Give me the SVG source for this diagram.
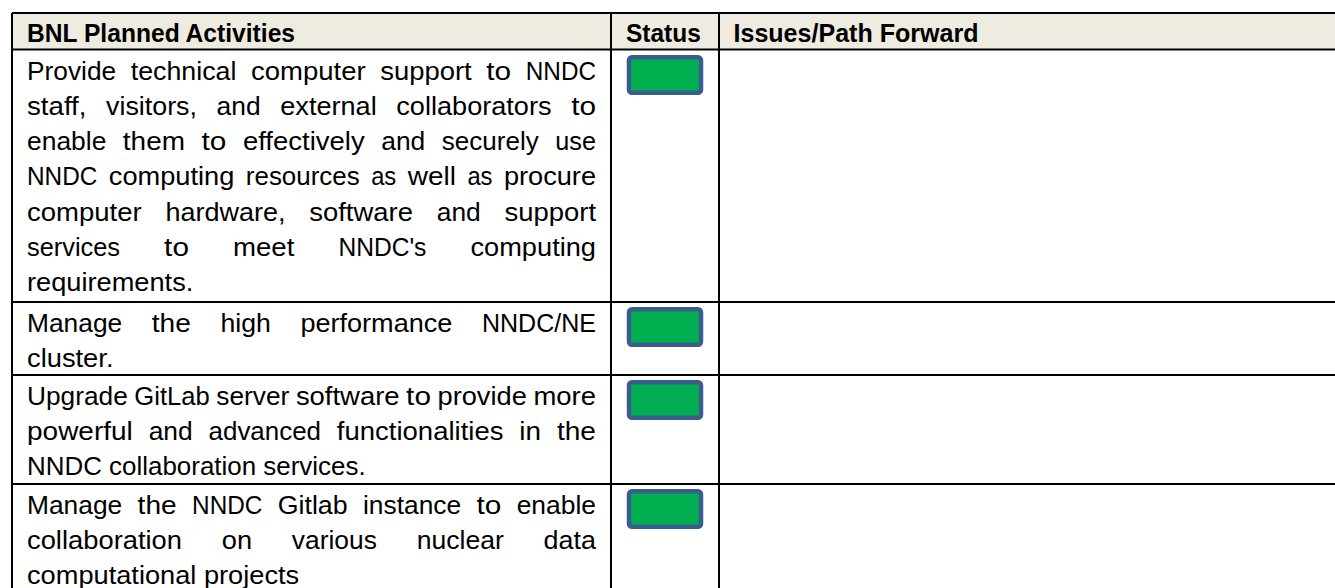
<svg xmlns="http://www.w3.org/2000/svg" width="1335" height="588" viewBox="0 0 1335 588">
<style>
.t{font-family:"Liberation Sans",Arial,sans-serif;font-size:26.5px;fill:#000}
.h{font-family:"Liberation Sans",Arial,sans-serif;font-size:26px;font-weight:bold;fill:#000}
.ln{stroke:#000;stroke-width:2;fill:none}
.st{fill:#00B050;stroke:#3A5D8F;stroke-width:4.5}
</style>
<rect width="1335" height="588" fill="#fff"/>
<g id="header">
<rect x="12" y="13" width="1323" height="36.5" fill="#EEECE1"/>
<text class="h" x="27" y="42" textLength="268" lengthAdjust="spacingAndGlyphs">BNL Planned Activities</text>
<text class="h" x="626" y="42" textLength="74.8" lengthAdjust="spacingAndGlyphs">Status</text>
<text class="h" x="733.5" y="42" textLength="245" lengthAdjust="spacingAndGlyphs">Issues/Path Forward</text>
</g>
<g id="grid">
<path class="ln" d="M12 13H1335M12 49.5H1335M12 302H1335M12 375H1335M12 484H1335M12 13V588M611 13V588M719 13V588"/>
</g>
<g id="row1">
<text class="t" y="79.5" lengthAdjust="spacingAndGlyphs"><tspan x="27" textLength="89.19" lengthAdjust="spacingAndGlyphs">Provide</tspan> <tspan x="130.79" textLength="105.58" lengthAdjust="spacingAndGlyphs">technical</tspan> <tspan x="250.97" textLength="114.65" lengthAdjust="spacingAndGlyphs">computer</tspan> <tspan x="380.22" textLength="91.5" lengthAdjust="spacingAndGlyphs">support</tspan> <tspan x="486.32" textLength="24.83" lengthAdjust="spacingAndGlyphs">to</tspan> <tspan x="525.75" textLength="70.27" lengthAdjust="spacingAndGlyphs">NNDC</tspan></text>
<text class="t" y="114.8"><tspan x="27" textLength="59.47" lengthAdjust="spacingAndGlyphs">staff,</tspan> <tspan x="106.13" textLength="90.81" lengthAdjust="spacingAndGlyphs">visitors,</tspan> <tspan x="216.6" textLength="44.04" lengthAdjust="spacingAndGlyphs">and</tspan> <tspan x="280.3" textLength="96.36" lengthAdjust="spacingAndGlyphs">external</tspan> <tspan x="396.32" textLength="155.2" lengthAdjust="spacingAndGlyphs">collaborators</tspan> <tspan x="571.18" textLength="24.83" lengthAdjust="spacingAndGlyphs">to</tspan></text>
<text class="t" y="150.1"><tspan x="27" textLength="79.32" lengthAdjust="spacingAndGlyphs">enable</tspan> <tspan x="122.87" textLength="62.12" lengthAdjust="spacingAndGlyphs">them</tspan> <tspan x="201.54" textLength="24.83" lengthAdjust="spacingAndGlyphs">to</tspan> <tspan x="242.92" textLength="121.74" lengthAdjust="spacingAndGlyphs">effectively</tspan> <tspan x="381.21" textLength="44.04" lengthAdjust="spacingAndGlyphs">and</tspan> <tspan x="441.8" textLength="96.94" lengthAdjust="spacingAndGlyphs">securely</tspan> <tspan x="555.29" textLength="40.72" lengthAdjust="spacingAndGlyphs">use</tspan></text>
<text class="t" y="185.4"><tspan x="27" textLength="70.27" lengthAdjust="spacingAndGlyphs">NNDC</tspan> <tspan x="108.79" textLength="125.54" lengthAdjust="spacingAndGlyphs">computing</tspan> <tspan x="245.85" textLength="113.79" lengthAdjust="spacingAndGlyphs">resources</tspan> <tspan x="371.16" textLength="25.06" lengthAdjust="spacingAndGlyphs">as</tspan> <tspan x="407.74" textLength="48.12" lengthAdjust="spacingAndGlyphs">well</tspan> <tspan x="467.38" textLength="25.06" lengthAdjust="spacingAndGlyphs">as</tspan> <tspan x="503.96" textLength="92.04" lengthAdjust="spacingAndGlyphs">procure</tspan></text>
<text class="t" y="220.7"><tspan x="27" textLength="114.65" lengthAdjust="spacingAndGlyphs">computer</tspan> <tspan x="165.43" textLength="120.07" lengthAdjust="spacingAndGlyphs">hardware,</tspan> <tspan x="309.28" textLength="103.65" lengthAdjust="spacingAndGlyphs">software</tspan> <tspan x="436.71" textLength="44.04" lengthAdjust="spacingAndGlyphs">and</tspan> <tspan x="504.53" textLength="91.5" lengthAdjust="spacingAndGlyphs">support</tspan></text>
<text class="t" y="256"><tspan x="27" textLength="93.05" lengthAdjust="spacingAndGlyphs">services</tspan> <tspan x="164.14" textLength="24.83" lengthAdjust="spacingAndGlyphs">to</tspan> <tspan x="233.06" textLength="61.34" lengthAdjust="spacingAndGlyphs">meet</tspan> <tspan x="338.49" textLength="87.9" lengthAdjust="spacingAndGlyphs">NNDC's</tspan> <tspan x="470.48" textLength="125.54" lengthAdjust="spacingAndGlyphs">computing</tspan></text>
<text class="t" x="27" y="291.3" textLength="166.3" lengthAdjust="spacingAndGlyphs">requirements.</text>
<rect class="st" x="629" y="57.25" width="72" height="35.5" rx="3"/>
</g>
<g id="row2">
<text class="t" y="331.5"><tspan x="27" textLength="95.24" lengthAdjust="spacingAndGlyphs">Manage</tspan> <tspan x="151.79" textLength="39.11" lengthAdjust="spacingAndGlyphs">the</tspan> <tspan x="220.45" textLength="50.4" lengthAdjust="spacingAndGlyphs">high</tspan> <tspan x="300.4" textLength="151.98" lengthAdjust="spacingAndGlyphs">performance</tspan> <tspan x="481.93" textLength="114.05" lengthAdjust="spacingAndGlyphs">NNDC/NE</tspan></text>
<text class="t" x="27" y="366.8" textLength="86.46" lengthAdjust="spacingAndGlyphs">cluster.</text>
<rect class="st" x="629" y="309.25" width="72" height="35.5" rx="3"/>
</g>
<g id="row3">
<text class="t" y="404.5"><tspan x="27" textLength="100.8" lengthAdjust="spacingAndGlyphs">Upgrade</tspan> <tspan x="134.34" textLength="75.43" lengthAdjust="spacingAndGlyphs">GitLab</tspan> <tspan x="216.31" textLength="73.07" lengthAdjust="spacingAndGlyphs">server</tspan> <tspan x="295.92" textLength="103.65" lengthAdjust="spacingAndGlyphs">software</tspan> <tspan x="406.11" textLength="24.83" lengthAdjust="spacingAndGlyphs">to</tspan> <tspan x="437.48" textLength="89.42" lengthAdjust="spacingAndGlyphs">provide</tspan> <tspan x="533.44" textLength="62.58" lengthAdjust="spacingAndGlyphs">more</tspan></text>
<text class="t" y="439.8"><tspan x="27" textLength="105.78" lengthAdjust="spacingAndGlyphs">powerful</tspan> <tspan x="148.64" textLength="44.04" lengthAdjust="spacingAndGlyphs">and</tspan> <tspan x="208.54" textLength="112.49" lengthAdjust="spacingAndGlyphs">advanced</tspan> <tspan x="336.89" textLength="166.58" lengthAdjust="spacingAndGlyphs">functionalities</tspan> <tspan x="519.33" textLength="21.72" lengthAdjust="spacingAndGlyphs">in</tspan> <tspan x="556.91" textLength="39.11" lengthAdjust="spacingAndGlyphs">the</tspan></text>
<text class="t" x="27" y="475.1" textLength="338.6" lengthAdjust="spacingAndGlyphs">NNDC collaboration services.</text>
<rect class="st" x="629" y="382.25" width="72" height="35.5" rx="3"/>
</g>
<g id="row4">
<text class="t" y="513.5"><tspan x="27" textLength="95.24" lengthAdjust="spacingAndGlyphs">Manage</tspan> <tspan x="137.61" textLength="39.11" lengthAdjust="spacingAndGlyphs">the</tspan> <tspan x="192.09" textLength="70.27" lengthAdjust="spacingAndGlyphs">NNDC</tspan> <tspan x="277.73" textLength="69.93" lengthAdjust="spacingAndGlyphs">Gitlab</tspan> <tspan x="363.03" textLength="98.06" lengthAdjust="spacingAndGlyphs">instance</tspan> <tspan x="476.46" textLength="24.83" lengthAdjust="spacingAndGlyphs">to</tspan> <tspan x="516.66" textLength="79.32" lengthAdjust="spacingAndGlyphs">enable</tspan></text>
<text class="t" y="548.8"><tspan x="27" textLength="155.03" lengthAdjust="spacingAndGlyphs">collaboration</tspan> <tspan x="221.8" textLength="30.3" lengthAdjust="spacingAndGlyphs">on</tspan> <tspan x="291.87" textLength="85.02" lengthAdjust="spacingAndGlyphs">various</tspan> <tspan x="416.66" textLength="87.21" lengthAdjust="spacingAndGlyphs">nuclear</tspan> <tspan x="543.64" textLength="52.36" lengthAdjust="spacingAndGlyphs">data</tspan></text>
<text class="t" x="27" y="584.1" textLength="272.2" lengthAdjust="spacingAndGlyphs">computational projects</text>
<rect class="st" x="629" y="491.25" width="72" height="35.5" rx="3"/>
</g>
</svg>
